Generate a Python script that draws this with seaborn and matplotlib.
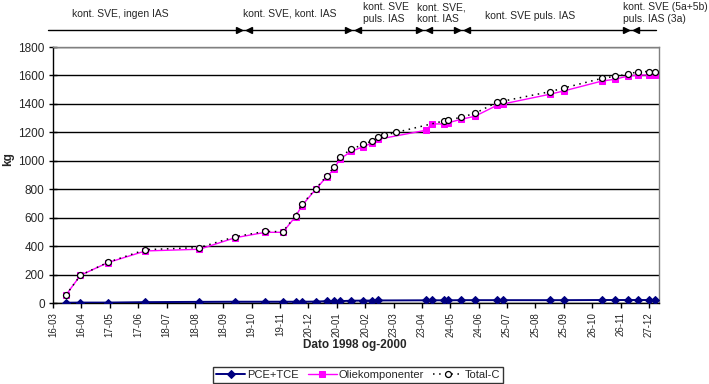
import numpy as np
import pandas as pd
import matplotlib
matplotlib.use("Agg")
import matplotlib.pyplot as plt
import matplotlib.dates as mdates
import matplotlib.transforms as mtransforms
import seaborn as sns

# ---------------- data ----------------
dates = ["1998-03-30", "1998-04-15", "1998-05-15", "1998-06-25", "1998-08-23",
         "1998-10-01", "1998-11-03", "1998-11-22", "1998-12-06", "1998-12-13",
         "1998-12-28", "1999-01-09", "1999-01-17", "1999-01-23", "1999-02-05",
         "1999-02-18", "1999-02-27", "1999-03-06", "1999-03-13", "1999-03-26",
         "1999-04-27", "1999-05-04", "1999-05-17", "1999-05-21", "1999-06-05",
         "1999-06-20", "1999-07-14", "1999-07-21", "1999-09-10", "1999-09-25",
         "1999-11-06", "1999-11-20", "1999-12-04", "1999-12-15", "1999-12-27",
         "2000-01-03"]
nan = np.nan
pce_tce = [2, 3, 3, 6, 8, 9, 9, 9, 9, 9,
           10, 13, 13, 13, 16, 17, 17, 18, nan, nan,
           19, 19, 19, 19, 20, 20, 20, 20, 20, 20,
           21, 21, 21, 21, 21, 21]
oliekomponenter = [55, 195, 284, 366, 378, 459, 497, 497, 608, 685,
                   800, 888, 940, 1011, 1066, 1100, 1123, 1151, nan, nan,
                   1214, 1259, 1259, 1266, 1292, 1313, 1390, 1400, 1468, 1491,
                   1561, 1573, 1596, 1603, 1603, 1603]
total_c = [55, 195, 286, 375, 390, 466, 504, 501, 614, 694,
           802, 895, 954, 1025, 1082, 1115, 1138, 1165, 1179, 1200,
           nan, nan, 1280, 1285, 1306, 1334, 1411, 1420, 1486, 1512,
           1580, 1594, 1608, 1627, 1627, 1627]

tick_labels = ["16-03", "16-04", "17-05", "17-06", "18-07", "18-08", "18-09",
               "19-10", "19-11", "20-12", "20-01", "20-02", "23-03", "23-04",
               "24-05", "24-06", "25-07", "25-08", "25-09", "26-10", "26-11",
               "27-12"]
axis_start = "1998-03-16"
axis_end = "2000-01-07"

phase_line = ["1998-03-10", "2000-01-04"]
phase_bounds = ["1998-10-11", "1999-02-07", "1999-04-25", "1999-06-06", "1999-12-07"]
phase_texts = ["kont. SVE, ingen IAS", "kont. SVE, kont. IAS", "kont. SVE\npuls. IAS",
               "kont. SVE,\nkont. IAS", "kont. SVE puls. IAS",
               "kont. SVE (5a+5b)\npuls. IAS (3a)"]

# ---------------- style ----------------
sns.set_theme(style="white")
plt.rcParams["font.family"] = ["Liberation Sans", "DejaVu Sans"]

W, H = 709, 384
fig = plt.figure(figsize=(W / 100, H / 100), dpi=100)
fig.patch.set_facecolor("white")
ax = fig.add_axes([53 / W, 1 - 303 / H, 606 / W, 256 / H])
ax.set_facecolor("white")

df = pd.DataFrame({"Dato": pd.to_datetime(dates), "PCE+TCE": pce_tce,
                   "Oliekomponenter": oliekomponenter, "Total-C": total_c})

s = df[["Dato", "PCE+TCE"]].dropna()
sns.lineplot(x=s["Dato"], y=s["PCE+TCE"], ax=ax, color="#000080", lw=1.4,
             marker="D", markersize=3.8, mfc="#000080", mec="#000080",
             label="PCE+TCE", estimator=None, sort=True, zorder=3)
s = df[["Dato", "Oliekomponenter"]].dropna()
sns.lineplot(x=s["Dato"], y=s["Oliekomponenter"], ax=ax, color="#FF00FF", lw=1.0,
             marker="s", markersize=4.3, mfc="#FF00FF", mec="#FF00FF",
             label="Oliekomponenter", estimator=None, sort=True, zorder=4)
s = df[["Dato", "Total-C"]].dropna()
sns.lineplot(x=s["Dato"], y=s["Total-C"], ax=ax, color="black", lw=1.1,
             linestyle=(0, (1, 3)), marker="o", markersize=4.3, mfc="white",
             mec="black", mew=0.9, label="Total-C", estimator=None, sort=True,
             zorder=5)

handles, labels = ax.get_legend_handles_labels()
if ax.get_legend() is not None:
    ax.get_legend().remove()

# axes
ax.set_xlim(pd.Timestamp(axis_start), pd.Timestamp(axis_end))
ax.set_ylim(0, 1800)
ax.set_yticks(np.arange(0, 1801, 200))
ticks = pd.date_range(axis_start, periods=len(tick_labels), freq="31D")
ax.set_xticks(ticks)
ax.set_xticklabels(tick_labels, rotation=90, fontsize=7)
ax.tick_params(axis="y", labelsize=8.5, direction="inout", length=6, width=1,
               color="black", pad=3, left=True)
ax.tick_params(axis="x", direction="out", length=3.5, width=1, color="black",
               pad=3, bottom=True)
ax.yaxis.grid(True, color="black", lw=1)
ax.xaxis.grid(False)
ax.set_axisbelow(True)
for side in ["left", "bottom"]:
    ax.spines[side].set_color("black")
    ax.spines[side].set_linewidth(1)
for side in ["top", "right"]:
    ax.spines[side].set_color("#808080")
    ax.spines[side].set_linewidth(1)
ax.set_xlabel("")
ax.set_ylabel("")

fig.text(355 / W, 1 - 345 / H, "Dato 1998 og-2000", ha="center", va="center",
         fontsize=8.5, fontweight="bold")
fig.text(8 / W, 1 - 159 / H, "kg", ha="center", va="center", rotation=90,
         fontsize=8.5, fontweight="bold")

# phase annotation line on top
blend = mtransforms.blended_transform_factory(ax.transData, fig.transFigure)
yl = 1 - 30 / H
x0, x1 = mdates.date2num(pd.Timestamp(phase_line[0])), mdates.date2num(pd.Timestamp(phase_line[1]))
ax.plot([x0, x1], [yl, yl], transform=blend, color="black", lw=1, clip_on=False)
for b in phase_bounds:
    bx = mdates.date2num(pd.Timestamp(b))
    tl = mtransforms.offset_copy(blend, fig=fig, x=-5, y=0, units="dots")
    tr = mtransforms.offset_copy(blend, fig=fig, x=5, y=0, units="dots")
    ax.plot([bx], [yl], transform=tl, marker=">", color="black", markersize=4.5,
            clip_on=False)
    ax.plot([bx], [yl], transform=tr, marker="<", color="black", markersize=4.5,
            clip_on=False)

ptxt_pos = [(120, 14, "center"), (290, 14, "center"), (363, 13, "left"),
            (417, 13, "left"), (530, 16, "center"), (623, 13, "left")]
for t, (px, py, ha) in zip(phase_texts, ptxt_pos):
    fig.text(px / W, 1 - py / H, t, ha=ha, va="center", fontsize=7.5,
             linespacing=1.25)

leg = fig.legend(handles, labels, loc="lower center",
                 bbox_to_anchor=(358 / W, 1 / H), ncol=3, fontsize=8,
                 frameon=True, fancybox=False, edgecolor="black",
                 handlelength=2.6, handletextpad=0.2, columnspacing=0.8,
                 borderpad=0.25, borderaxespad=0)
leg.get_frame().set_linewidth(1)
leg.get_frame().set_facecolor("white")

fig.savefig("out.png", dpi=100, facecolor="white")
